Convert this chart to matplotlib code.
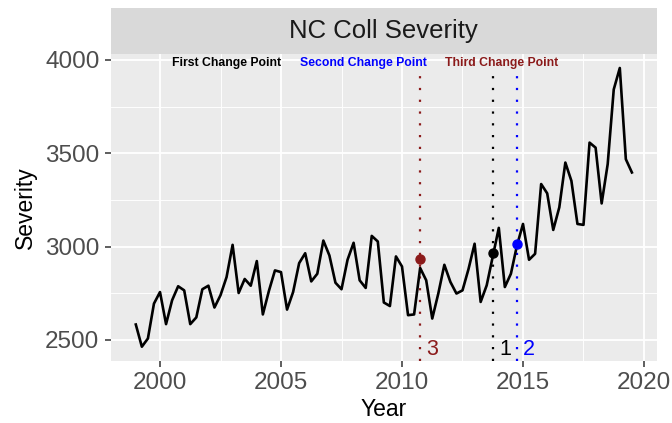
import matplotlib
matplotlib.use('Agg')
import matplotlib.pyplot as plt
import numpy as np

plt.rcParams['font.family'] = ['Liberation Sans', 'DejaVu Sans']

# quarterly severity, 1999 Q1 .. 2019 Q3
years = np.arange(1999.0, 2019.75, 0.25)
severity = [2582, 2463, 2507, 2694, 2756, 2584, 2712, 2787, 2765, 2584,
            2620, 2771, 2790, 2673, 2739, 2836, 3009, 2751, 2826, 2790,
            2922, 2636, 2762, 2872, 2863, 2662, 2756, 2911, 2964, 2813,
            2854, 3032, 2952, 2806, 2771, 2929, 3020, 2819, 2778, 3057,
            3027, 2700, 2681, 2947, 2893, 2632, 2636, 2885, 2819, 2614,
            2748, 2902, 2810, 2748, 2765, 2880, 3015, 2703, 2792, 2946,
            3100, 2783, 2854, 3005, 3121, 2929, 2961, 3335, 3285, 3089,
            3210, 3450, 3352, 3121, 3116, 3557, 3530, 3231, 3442, 3842,
            3957, 3468, 3397]

# change points
cp_years = [2013.75, 2014.75, 2010.75]
cp_values = [2964, 3012, 2934]
cp_numbers = ['1', '2', '3']
cp_colors = ['black', '#0000FF', '#8B1A1A']
cp_titles = ['First Change Point', 'Second Change Point', 'Third Change Point']
cp_title_x = [2002.73, 2008.39, 2014.12]
cp_title_y = 3984
cp_number_y = 2450
cp_line_top = 3930

xticks = [2000, 2005, 2010, 2015, 2020]
yticks = [2500, 3000, 3500, 4000]

W, H = 672, 423
fig = plt.figure(figsize=(W / 100, H / 100), dpi=100)
ax = fig.add_axes([111 / W, 1 - 360.7 / H, (656.7 - 111) / W, (360.7 - 54) / H])

ax.set_facecolor('#EBEBEB')
for s in ax.spines.values():
    s.set_visible(False)

ax.set_xlim(1997.975, 2020.525)
ax.set_ylim(2388, 4032)
ax.set_xticks(xticks)
ax.set_yticks(yticks)
ax.set_xticks([2002.5, 2007.5, 2012.5, 2017.5], minor=True)
ax.set_yticks([2750, 3250, 3750], minor=True)
ax.grid(which='major', color='white', linewidth=1.3)
ax.grid(which='minor', color='white', linewidth=0.65)
ax.set_axisbelow(True)
ax.tick_params(which='major', length=4.3, width=1.1, color='#333333',
               labelsize=17.5, labelcolor='#4D4D4D', pad=4)
ax.tick_params(which='minor', length=0)

ax.plot(years, severity, color='black', linewidth=1.9, zorder=3)

for yr, val, num, col in zip(cp_years, cp_values, cp_numbers, cp_colors):
    ax.plot([yr, yr], [2388, cp_line_top], color=col, linewidth=1.6,
            linestyle=(0, (1, 4.3)), dash_capstyle='butt', zorder=2)
    ax.plot(yr, val, 'o', color=col, markersize=6.5, zorder=4)
    ax.text(yr + 0.5, cp_number_y, num, color=col, fontsize=15.5,
            ha='center', va='center', zorder=5)

for tx, t, col in zip(cp_title_x, cp_titles, cp_colors):
    ax.text(tx, cp_title_y, t, color=col, fontsize=8.8, fontweight='bold',
            ha='center', va='center', zorder=5)

ax.set_xlabel('Year', fontsize=16.5, color='black', labelpad=3)
ax.set_ylabel('Severity', fontsize=16.5, color='black', labelpad=6)

# facet strip
strip = fig.add_axes([111 / W, 1 - 54 / H, (656.7 - 111) / W, 46 / H])
strip.set_facecolor('#D9D9D9')
strip.set_xticks([])
strip.set_yticks([])
for s in strip.spines.values():
    s.set_visible(False)
strip.text(0.5, 0.5, 'NC Coll Severity', fontsize=18.5, color='#1A1A1A',
           ha='center', va='center', transform=strip.transAxes)

plt.savefig('out.png', dpi=100)
plt.close()
